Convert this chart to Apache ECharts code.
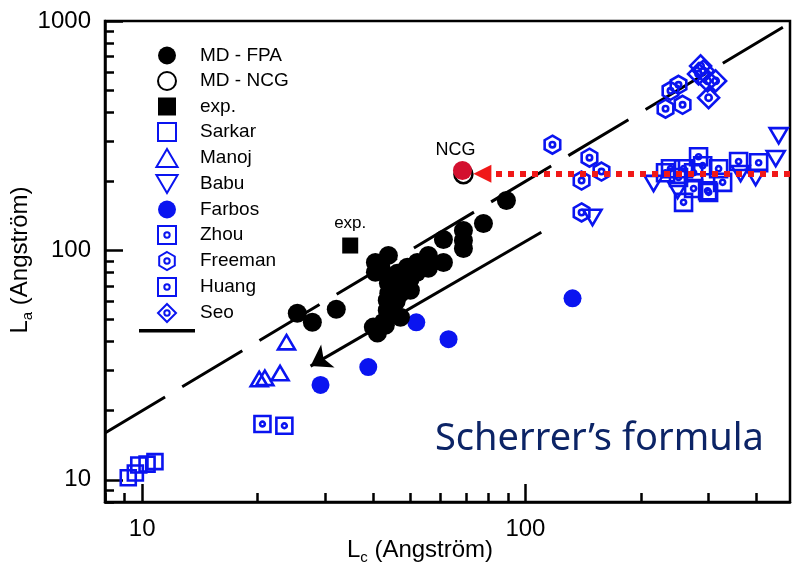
<!DOCTYPE html>
<html>
<head>
<meta charset="utf-8">
<script src="https://cdn.jsdelivr.net/npm/echarts@6/dist/echarts.min.js"></script>
<style>html,body{margin:0;padding:0;background:#fff;}#c{width:792px;height:567px;}</style>
</head>
<body>
<div id="c"></div>
<script>
// ---- data (Lc, La in Angström) ----
const xMajorTicks = [10, 100];
const xMinorTicks = [8, 9, 20, 30, 40, 50, 60, 70, 80, 90, 200, 300, 400];
const yMajorTicks = [10, 100, 1000];
const yMinorTicks = [8, 9, 20, 30, 40, 50, 60, 70, 80, 90, 200, 300, 400, 500, 600, 700, 800, 900];

const mdFPA = [[89.2,165],[77.7,131],[68.9,122],[68.9,110.5],[68.9,102],[61.1,111.6],[61.1,88.6],[55.8,95.1],[55.8,83.5],[52.2,88.6],[43.9,95.1],[40.6,88.6],[40.6,80.2],[43.9,71.9],[48.0,76.3],[50.1,67.0],[47.2,65.0],[43.6,60.6],[43.6,54.8],[47.2,51.1],[42.6,48.6],[40.1,46.3],[41.1,43.6],[46.3,79.4],[49.2,84.4],[25.4,53.2],[27.8,48.6],[32.1,55.4],[43.1,47.2],[45,70],[50,75],[52,80],[46,60],[44,65],[42,84]];
const mdNCG = [[68.9,215]];
const ncgHighlight = [[68.5,223]];
const expData = [[34.9,105]];
const sarkar = [[9.2,10.2],[9.6,10.7],[9.8,11.6],[10.3,11.7],[10.8,12.0]];
const manoj = [[23.8,39.8],[20.2,27.5],[20.9,27.8],[22.9,29.2]];
const babu = [[215.9,195.6],[449.7,251.2],[457.8,316],[398.6,207.7],[364.2,216.1],[249.4,182.3],[149.6,139.2]];
const farbos = [[29.2,25.9],[38.9,31.0],[51.9,48.6],[63.0,41.0],[132.7,61.8]];
const zhou = [[282.9,256],[239,227],[258.5,227],[274.6,218],[250.8,208],[274.6,186],[298.7,182],[258.5,162],[319.1,227],[326.9,198],[359.8,244],[405.9,241],[290,234],[232,218],[300.5,179]];
const freeman = [[117.6,289],[146.9,253.7],[157.9,220.5],[140.1,201.5],[140.1,146.3],[232,414.5],[257,431],[250.8,527],[239,496]];
const huang = [[20.6,17.5],[23.5,17.2]];
const seo = [[286.4,637],[282.9,588],[298.7,548],[313.4,548],[300.5,463],[291.6,606]];
const fitLine = [[8,16],[490,980]];          // La = 2 Lc
const blackArrow = [[110,120],[27.5,31.3]];
const redArrow = [[490,216],[77.2,216]];

// ---- styling ----
const BLUE = '#0a14f0';
const FONT = 'Liberation Sans, Arial, sans-serif';
const ring = ' M10,7 A3,3 0 1 0 10,13 A3,3 0 1 0 10,7 Z';
const SQ_DOT = 'path://M0,0 L20,0 L20,20 L0,20 Z' + ring;
const HEX_DOT = 'path://M10,0 L18.66,5 L18.66,15 L10,20 L1.34,15 L1.34,5 Z' + ring;
const DIA_DOT = 'path://M10,0 L20,10 L10,20 L0,10 Z' + ring;
const DOWN_TRI = 'path://M0,0 L20,0 L10,17 Z';
const UP_TRI = 'path://M10,0 L20,17 L0,17 Z';
const SQUARE = 'path://M0,0 L20,0 L20,20 L0,20 Z';
const LEG_LINE = 'path://M0,0 L48,0 L48,3 L0,3 Z';
const hollow = {color: 'rgba(255,255,255,0)', borderColor: BLUE, borderWidth: 2.6, opacity: 1};

function scatter(name, data, symbol, size, itemStyle, extra) {
  return Object.assign({type: 'scatter', name, data, symbol, symbolSize: size, symbolKeepAspect: true,
    itemStyle: Object.assign({opacity: 1}, itemStyle)}, extra || {});
}
function tickFmt(v) { return String(Math.round(v)); }

const chart = echarts.init(document.getElementById('c'), null, {renderer: 'canvas'});

const axisCommon = {type: 'log', logBase: 10, splitLine: {show: false}};

chart.setOption({
  backgroundColor: '#ffffff',
  animation: false,
  grid: {left: 105, right: 2, top: 21, bottom: 65, show: true, borderColor: '#000', borderWidth: 2.5, containLabel: false},
  xAxis: [
    Object.assign({}, axisCommon, {
      min: 8, max: 490, position: 'bottom',
      axisLine: {show: true, onZero: false, lineStyle: {color: '#000', width: 2.5}},
      axisTick: {show: true, inside: true, length: 18, customValues: xMajorTicks, lineStyle: {color: '#000', width: 2.5}},
      axisLabel: {show: true, customValues: xMajorTicks, formatter: tickFmt, fontSize: 24, fontFamily: FONT, color: '#000', margin: 15}
    }),
    Object.assign({}, axisCommon, {
      min: 8, max: 490, position: 'bottom',
      axisLine: {show: false, onZero: false},
      axisTick: {show: true, inside: true, length: 9, customValues: xMinorTicks, lineStyle: {color: '#000', width: 2.5}},
      axisLabel: {show: false}
    })
  ],
  yAxis: [
    Object.assign({}, axisCommon, {
      min: 8, max: 1000, position: 'left',
      axisLine: {show: true, onZero: false, lineStyle: {color: '#000', width: 2.5}},
      axisTick: {show: true, inside: true, length: 18, customValues: yMajorTicks, lineStyle: {color: '#000', width: 2.5}},
      axisLabel: {show: true, customValues: yMajorTicks, formatter: tickFmt, fontSize: 24, fontFamily: FONT, color: '#000', margin: 14}
    }),
    Object.assign({}, axisCommon, {
      min: 8, max: 1000, position: 'left',
      axisLine: {show: false, onZero: false},
      axisTick: {show: true, inside: true, length: 9, customValues: yMinorTicks, lineStyle: {color: '#000', width: 2.5}},
      axisLabel: {show: false}
    })
  ],
  legend: {
    orient: 'vertical', left: 139, top: 46, padding: 0,
    itemWidth: 56, itemHeight: 18, itemGap: 6, symbolKeepAspect: true,
    textStyle: {fontSize: 19, fontFamily: FONT, color: '#000', lineHeight: 18},
    formatter: function (n) { return n === 'fit' ? '' : n; },
    data: [
      {name: 'MD - FPA', icon: 'circle'},
      {name: 'MD - NCG', icon: 'circle'},
      {name: 'exp.', icon: SQUARE},
      {name: 'Sarkar', icon: SQUARE},
      {name: 'Manoj', icon: UP_TRI},
      {name: 'Babu', icon: DOWN_TRI},
      {name: 'Farbos', icon: 'circle'},
      {name: 'Zhou', icon: SQ_DOT},
      {name: 'Freeman', icon: HEX_DOT},
      {name: 'Huang', icon: SQ_DOT},
      {name: 'Seo', icon: DIA_DOT},
      {name: 'fit', icon: LEG_LINE, itemStyle: {color: '#000', borderWidth: 0}}
    ]
  },
  series: [
    {type: 'line', name: 'fit', data: fitLine, symbol: 'none', showSymbol: false, z: 1,
      lineStyle: {color: '#000', width: 3, type: [70, 20]}, itemStyle: {color: '#000'}},
    {type: 'lines', coordinateSystem: 'cartesian2d', z: 1, data: [{coords: blackArrow}],
      symbol: ['none', 'arrow'], symbolSize: [0, 20], lineStyle: {color: '#000', width: 3, opacity: 1}},
    scatter('Sarkar', sarkar, SQUARE, 15, hollow),
    scatter('Manoj', manoj, UP_TRI, 17, hollow),
    scatter('Babu', babu, DOWN_TRI, 18, hollow),
    scatter('Zhou', zhou, SQ_DOT, 17, hollow),
    scatter('Freeman', freeman, HEX_DOT, 18, hollow),
    scatter('Huang', huang, SQ_DOT, 16, hollow),
    scatter('Seo', seo, DIA_DOT, 21, hollow),
    scatter('Farbos', farbos, 'circle', 18, {color: BLUE}),
    scatter('MD - FPA', mdFPA, 'circle', 19, {color: '#000'}),
    scatter('exp.', expData, SQUARE, 16, {color: '#000'}, {
      label: {show: true, position: 'top', distance: 6, formatter: 'exp.', fontSize: 17, fontFamily: FONT, color: '#000'}}),
    scatter('MD - NCG', mdNCG, 'circle', 18, {color: '#fff', borderColor: '#000', borderWidth: 2.5}),
    scatter('NCG', ncgHighlight, 'circle', 19, {color: '#d3102f'}, {
      label: {show: true, position: 'top', distance: 2, offset: [-7, 0], formatter: 'NCG', fontSize: 18, fontFamily: FONT, color: '#000'}}),
    {type: 'lines', coordinateSystem: 'cartesian2d', z: 5, data: [{coords: redArrow}],
      symbol: ['none', 'triangle'], symbolSize: [0, 18], lineStyle: {color: '#f01818', width: 6, type: [6, 6], opacity: 1}}
  ],
  graphic: [
    {type: 'text', x: 435, y: 439, style: {text: 'Scherrer\u2019s formula', fontSize: 38, verticalAlign: 'middle',
      fontFamily: 'Comic Sans MS, Noto Sans, DejaVu Sans, sans-serif', fill: '#0c2466'}},
    {type: 'text', x: 420, y: 550, style: {
      text: '{m|L}{s|c}{m| (Angstr\u00f6m)}', align: 'center', verticalAlign: 'middle',
      rich: {m: {fontSize: 24, fontFamily: FONT, fill: '#000', lineHeight: 30, verticalAlign: 'middle'},
             s: {fontSize: 15, fontFamily: FONT, fill: '#000', lineHeight: 15, verticalAlign: 'bottom'}}}},
    {type: 'text', x: 20, y: 260, rotation: Math.PI / 2, style: {
      text: '{m|L}{s|a}{m| (Angstr\u00f6m)}', align: 'center', verticalAlign: 'middle',
      rich: {m: {fontSize: 24, fontFamily: FONT, fill: '#000', lineHeight: 30, verticalAlign: 'middle'},
             s: {fontSize: 15, fontFamily: FONT, fill: '#000', lineHeight: 15, verticalAlign: 'bottom'}}}}
  ]
});
</script>
</body>
</html>
